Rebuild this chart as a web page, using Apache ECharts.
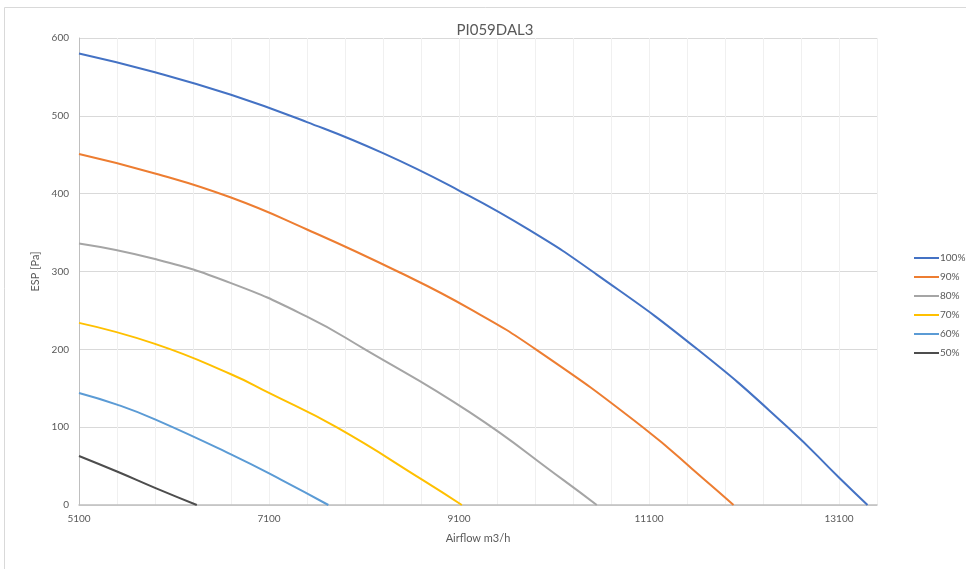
<!DOCTYPE html>
<html>
<head>
<meta charset="utf-8">
<title>PI059DAL3</title>
<script src="https://cdn.jsdelivr.net/npm/echarts@6/dist/echarts.min.js"></script>
<style>
  html, body { margin: 0; padding: 0; background: #ffffff; }
  #chart { width: 966px; height: 569px; }
</style>
</head>
<body>
<div id="chart"></div>
<script>
// Fan curves: airflow (m3/h) vs. external static pressure (Pa) per speed step
const chartTitle = 'PI059DAL3';
const xAxisName = 'Airflow m3/h';
const yAxisName = 'ESP [Pa]';

const speedNames = ['100%', '90%', '80%', '70%', '60%', '50%'];

const airflow100 = [5100, 5900, 6700, 7500, 8300, 9100, 9830, 10540, 11610, 12560, 13110, 13400];
const esp100     = [580, 556, 527, 492, 452, 404, 354, 297, 200, 100, 34, 0];

const airflow90 = [5100, 5900, 6700, 7500, 8455, 9215, 9920, 11035, 11670, 11990];
const esp90     = [451, 426, 395, 354, 300, 252, 199, 100, 34, 0];

const airflow80 = [5100, 5900, 6700, 7500, 8110, 9215, 10200, 10550];
const esp80     = [336, 316, 285, 242, 200, 119, 32, 0];

const airflow70 = [5100, 5900, 6700, 7100, 7810, 8720, 9130];
const esp70     = [234, 207, 168, 144, 100, 32, 0];

const airflow60 = [5100, 5500, 5900, 6700, 7235, 7725];
const esp60     = [144, 129, 110, 65, 32, 0];

const airflow50 = [5100, 5500, 5900, 6340];
const esp50     = [63, 43, 22, 0];

// axis ranges and tick spacing; x labels every 2000 m3/h from 5100
const xTicks = { min: 5100, max: 13500, step: 400, labelStep: 2000 };
const yTicks = { min: 0, max: 600, step: 100 };

const curveX = [airflow100, airflow90, airflow80, airflow70, airflow60, airflow50];
const curveY = [esp100, esp90, esp80, esp70, esp60, esp50];
const curveColors = ['#4472C4', '#ED7D31', '#A5A5A5', '#FFC000', '#5B9BD5', '#4D4D4D'];

const zip = (xs, ys) => xs.map((x, i) => [x, ys[i]]);

const textColor = '#595959';
const fontFamily = 'Lato, "Open Sans", "Liberation Sans", sans-serif';

const chart = echarts.init(document.getElementById('chart'), null, { renderer: 'canvas' });

chart.setOption({
  backgroundColor: '#ffffff',
  animation: false,
  textStyle: { fontFamily: fontFamily, color: textColor },
  title: {
    text: chartTitle,
    left: 490,
    textAlign: 'center',
    top: 18,
    textStyle: { fontFamily: fontFamily, fontSize: 15, fontWeight: 'normal', color: textColor }
  },
  graphic: [
    { type: 'line', shape: { x1: 4.5, y1: 7.5, x2: 966, y2: 7.5 }, style: { stroke: '#D9D9D9', lineWidth: 1 }, silent: true },
    { type: 'line', shape: { x1: 4.5, y1: 7.5, x2: 4.5, y2: 569 }, style: { stroke: '#D9D9D9', lineWidth: 1 }, silent: true }
  ],
  legend: {
    orient: 'vertical',
    left: 909,
    top: 248,
    icon: 'rect',
    itemWidth: 25,
    itemHeight: 2,
    itemGap: 9,
    data: speedNames,
    textStyle: { fontFamily: fontFamily, fontSize: 10, color: textColor, padding: [0, 0, 0, -4] }
  },
  grid: { left: 79, right: 89, top: 38, bottom: 64, containLabel: false },
  xAxis: {
    type: 'value',
    min: xTicks.min,
    max: xTicks.max,
    interval: xTicks.step,
    name: xAxisName,
    nameLocation: 'middle',
    nameGap: 28,
    nameTextStyle: { fontFamily: fontFamily, fontSize: 11, color: textColor },
    axisLine: { show: true, lineStyle: { color: '#BFBFBF', width: 1.5 } },
    axisTick: { show: false },
    axisLabel: {
      margin: 9,
      fontSize: 10,
      color: textColor,
      fontFamily: fontFamily,
      showMaxLabel: false,
      formatter: v => ((v - xTicks.min) % xTicks.labelStep === 0 ? String(v) : '')
    },
    splitLine: { show: true, lineStyle: { color: '#F0F0F0', width: 1 } }
  },
  yAxis: {
    type: 'value',
    min: yTicks.min,
    max: yTicks.max,
    interval: yTicks.step,
    name: yAxisName,
    nameLocation: 'middle',
    nameGap: 22,
    nameTextStyle: { fontFamily: fontFamily, fontSize: 11, color: textColor },
    axisLine: { show: true, lineStyle: { color: '#BFBFBF', width: 1 } },
    axisTick: { show: false },
    axisLabel: { margin: 10, fontSize: 10, color: textColor, fontFamily: fontFamily },
    splitLine: { show: true, lineStyle: { color: '#D9D9D9', width: 1 } }
  },
  series: speedNames.map((name, i) => ({
    name: name,
    type: 'line',
    data: zip(curveX[i], curveY[i]),
    smooth: 0.5,
    symbol: 'none',
    clip: true,
    color: curveColors[i],
    lineStyle: { color: curveColors[i], width: 2 },
    itemStyle: { color: curveColors[i] },
    emphasis: { disabled: true }
  }))
});
</script>
</body>
</html>
